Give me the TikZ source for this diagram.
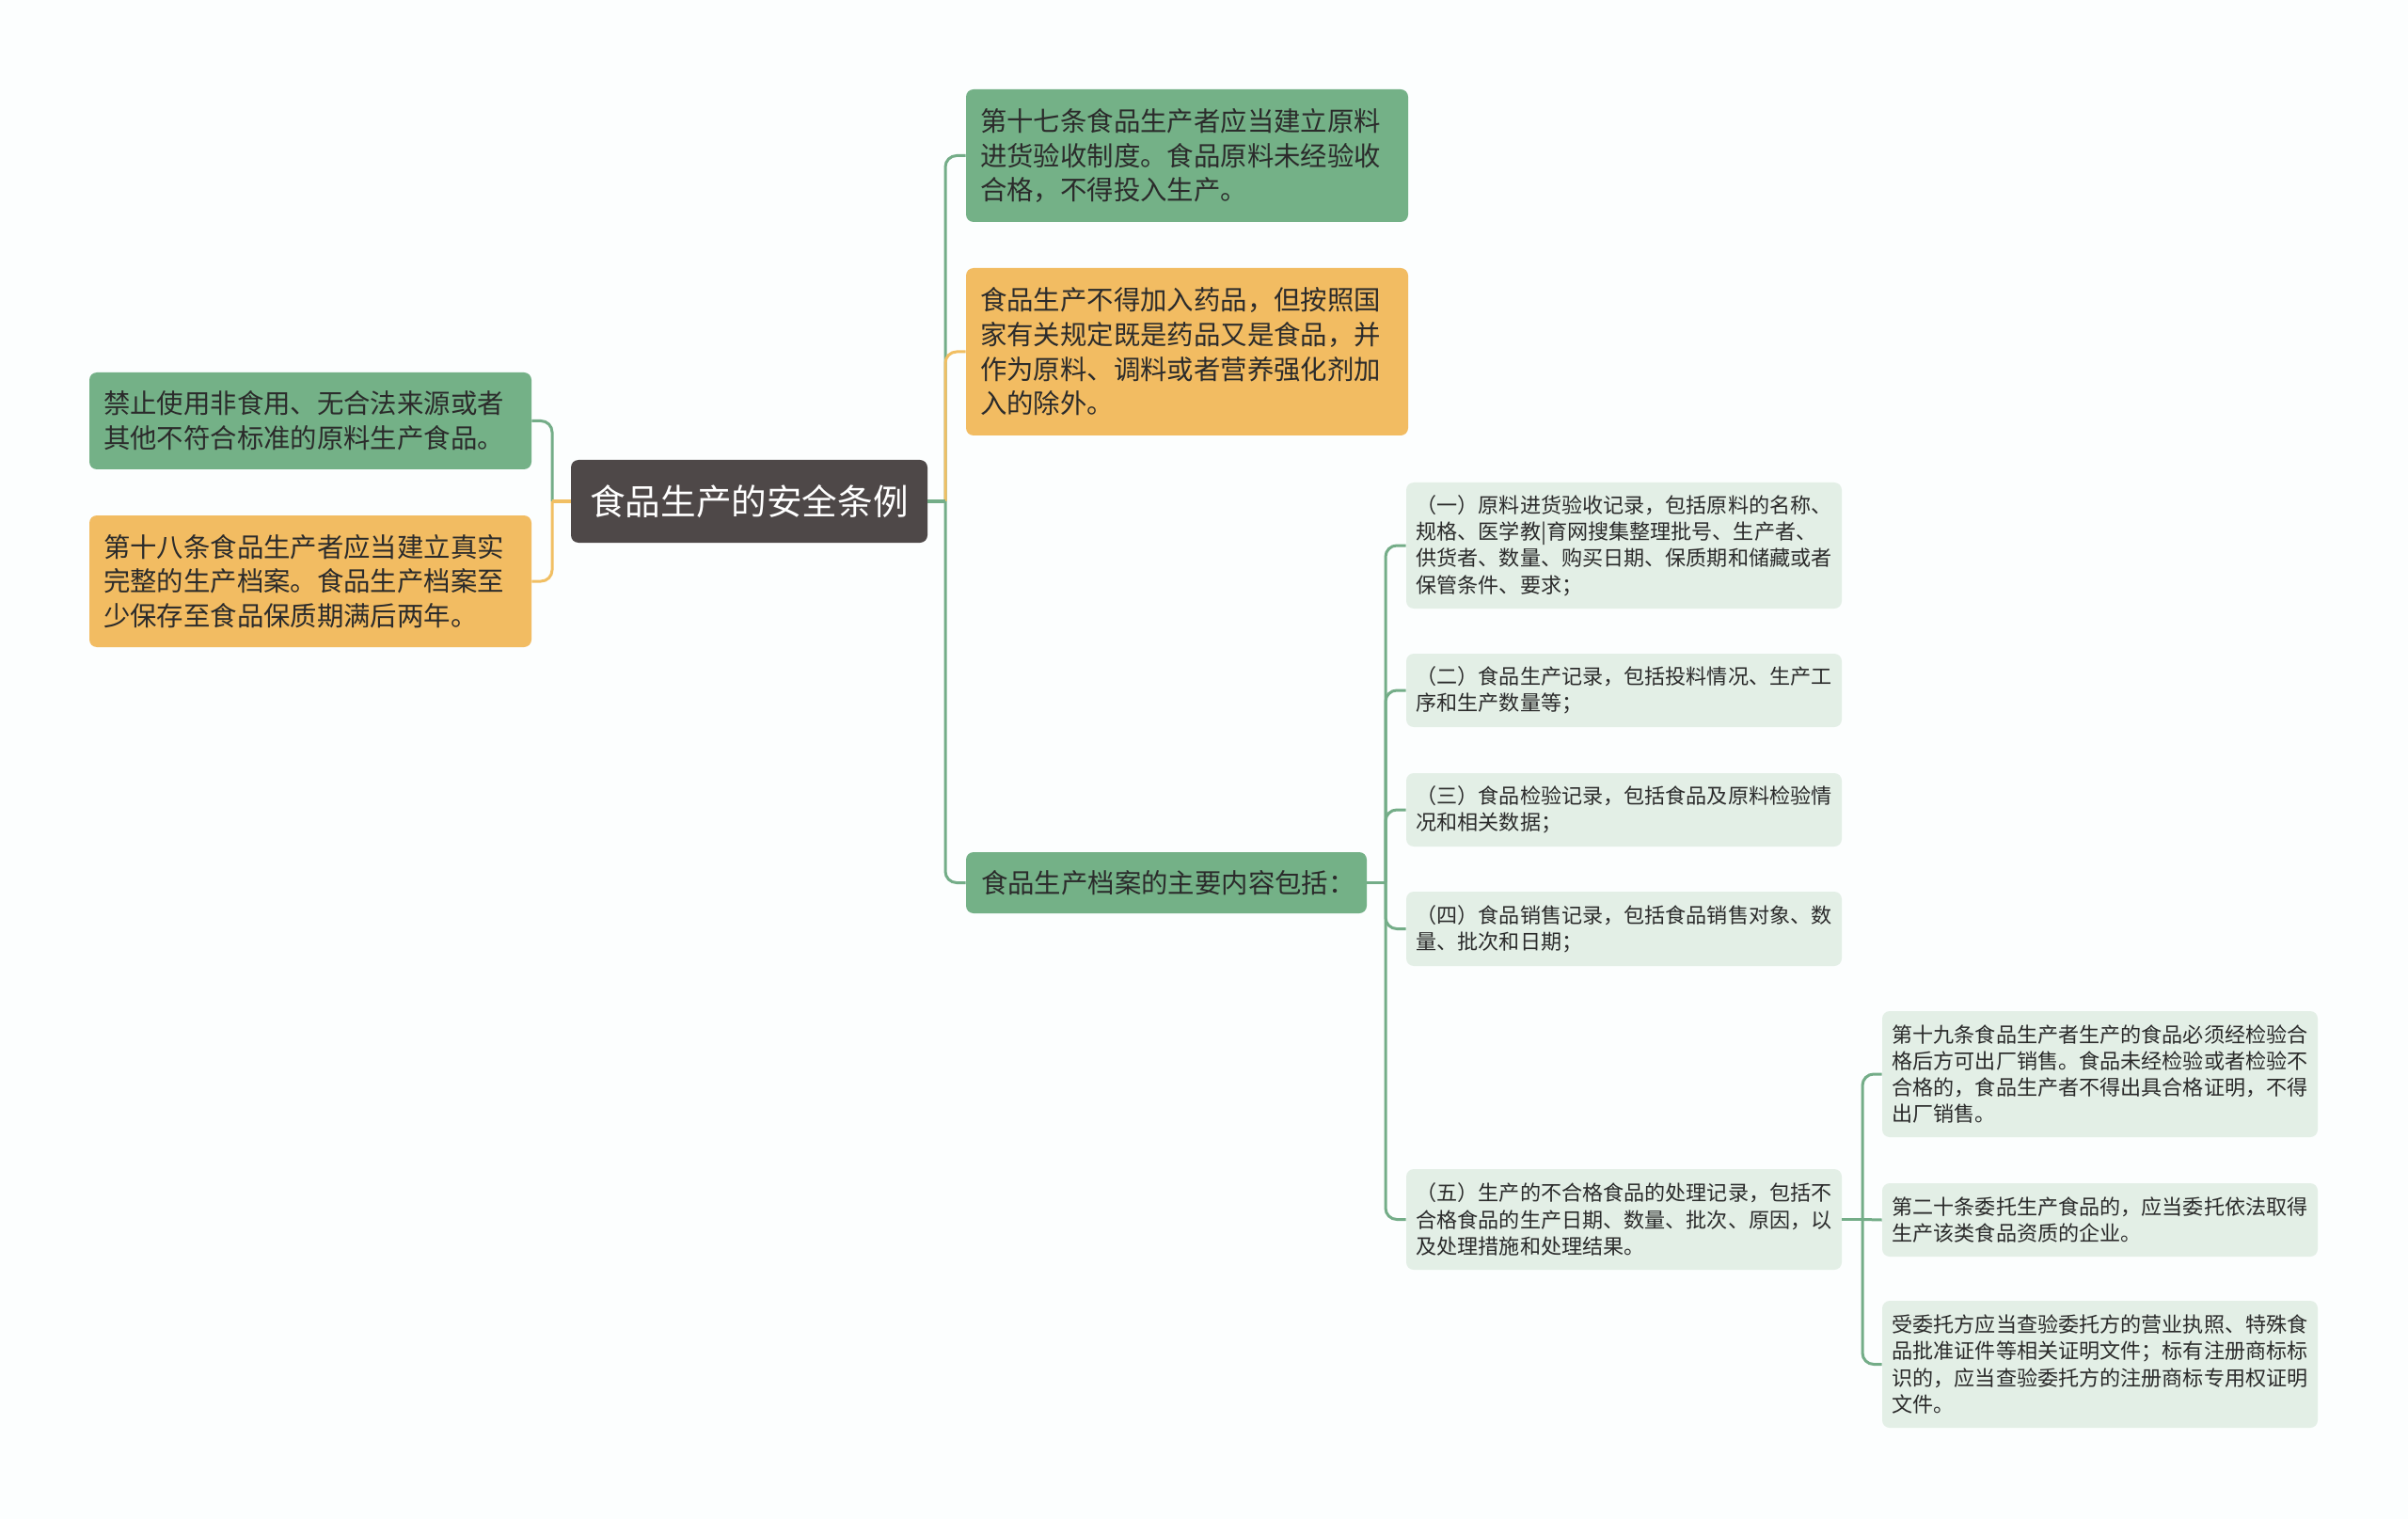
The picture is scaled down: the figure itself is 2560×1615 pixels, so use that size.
\documentclass[tikz,border=0pt]{standalone}
\usepackage{fontspec}
\setmainfont{Noto Sans CJK SC}
\usepackage{tikz}

\definecolor{bgwhite}{HTML}{FCFEFE}
\definecolor{leafgreen}{HTML}{74B187}
\definecolor{leaforange}{HTML}{F2BC62}
\definecolor{rootgray}{HTML}{4E4848}
\definecolor{palegreen}{HTML}{E3EFE6}
\definecolor{linegreen}{HTML}{74AD88}
\definecolor{lineorange}{HTML}{F1BF63}
\definecolor{inkgray}{HTML}{2B2B2B}

\begin{document}
\begin{tikzpicture}[x=0.5pt,y=-0.5pt]
\tikzstyle{every node}=[rounded corners=4pt, inner ysep=0pt, text=inkgray]
\tikzstyle{rootbox}=[fill=rootgray, text=white, minimum width=189.5pt, minimum height=44pt,
    font=\fontsize{18.8pt}{22pt}\selectfont]
\tikzstyle{bigbox}=[text width=220pt, inner xsep=7.5pt, align=left,
    font=\fontsize{14.2pt}{18.35pt}\selectfont]
\tikzstyle{greenbox}=[bigbox, fill=leafgreen]
\tikzstyle{orangebox}=[bigbox, fill=leaforange]
\tikzstyle{smallbox}=[fill=palegreen, text width=221pt, inner xsep=5.25pt, align=left,
    font=\fontsize{11.05pt}{14.15pt}\selectfont]
\tikzstyle{gline}=[draw=linegreen, line width=1.5pt]
\tikzstyle{oline}=[draw=lineorange, line width=1.5pt]

\fill[bgwhite] (0,0) rectangle (2560,1615);
\useasboundingbox (0,0) rectangle (2560,1615);

% centre and first level
\node[rootbox] (root) at (796.5,533) {食品生产的安全条例};
\node[greenbox, minimum height=70.5pt] (art17) at (1262,165.5)
    {第十七条食品生产者应当建立原料\\进货验收制度。食品原料未经验收\\合格，不得投入生产。};
\node[orangebox, minimum height=89pt] (drug) at (1262,374)
    {食品生产不得加入药品，但按照国\\家有关规定既是药品又是食品，并\\作为原料、调料或者营养强化剂加\\入的除外。};
\node[greenbox, text width=197pt, inner xsep=8pt, minimum height=32.5pt] (file) at (1240,938.5)
    {食品生产档案的主要内容包括：};
\node[greenbox, minimum height=51.5pt] (ban) at (330,447.5)
    {禁止使用非食用、无合法来源或者\\其他不符合标准的原料生产食品。};
\node[orangebox, minimum height=70pt] (art18) at (330,618)
    {第十八条食品生产者应当建立真实\\完整的生产档案。食品生产档案至\\少保存至食品保质期满后两年。};

% records
\node[smallbox, minimum height=67pt] (rec1) at (1726.5,580)
    {（一）原料进货验收记录，包括原料的名称、\\规格、医学教|育网搜集整理批号、生产者、\\供货者、数量、购买日期、保质期和储藏或者\\保管条件、要求；};
\node[smallbox, minimum height=39pt] (rec2) at (1726.5,734)
    {（二）食品生产记录，包括投料情况、生产工\\序和生产数量等；};
\node[smallbox, minimum height=39pt] (rec3) at (1726.5,861)
    {（三）食品检验记录，包括食品及原料检验情\\况和相关数据；};
\node[smallbox, minimum height=39.5pt] (rec4) at (1726.5,987.5)
    {（四）食品销售记录，包括食品销售对象、数\\量、批次和日期；};
\node[smallbox, minimum height=53.5pt] (rec5) at (1726.5,1296.5)
    {（五）生产的不合格食品的处理记录，包括不\\合格食品的生产日期、数量、批次、原因，以\\及处理措施和处理结果。};

% articles under (五)
\node[smallbox, minimum height=67pt] (art19) at (2232.5,1142)
    {第十九条食品生产者生产的食品必须经检验合\\格后方可出厂销售。食品未经检验或者检验不\\合格的，食品生产者不得出具合格证明，不得\\出厂销售。};
\node[smallbox, minimum height=39pt] (art20) at (2232.5,1297)
    {第二十条委托生产食品的，应当委托依法取得\\生产该类食品资质的企业。};
\node[smallbox, minimum height=67.5pt] (trust) at (2232.5,1450.5)
    {受委托方应当查验委托方的营业执照、特殊食\\品批准证件等相关证明文件；标有注册商标标\\识的，应当查验委托方的注册商标专用权证明\\文件。};

% junctions
\coordinate (jr) at (1005,533);
\coordinate (jl) at (587,533);
\coordinate (jf) at (1473,938.5);
\coordinate (j5) at (1980,1296.5);

% connectors
\draw[gline] (root.west) -- (jl);
\draw[gline, rounded corners=6pt] (jl) |- (ban.east);
\draw[oline] (root.west) -- (jl);
\draw[oline, rounded corners=6pt] (jl) |- (art18.east);

\draw[gline] (root.east) -- (jr);
\draw[gline, rounded corners=6pt] (jr) |- (art17.west);
\draw[oline] (root.east) -- (jr);
\draw[oline, rounded corners=6pt] (jr) |- (drug.west);
\draw[gline] (root.east) -- (jr);
\draw[gline, rounded corners=6pt] (jr) |- (file.west);

\draw[gline] (file.east) -- (jf);
\draw[gline, rounded corners=6pt] (jf) |- (rec1.west);
\draw[gline, rounded corners=6pt] (jf) |- (rec2.west);
\draw[gline, rounded corners=6pt] (jf) |- (rec3.west);
\draw[gline, rounded corners=6pt] (jf) |- (rec4.west);
\draw[gline, rounded corners=6pt] (jf) |- (rec5.west);

\draw[gline] (rec5.east) -- (j5);
\draw[gline, rounded corners=6pt] (j5) |- (art19.west);
\draw[gline] (j5) -- (art20.west);
\draw[gline, rounded corners=6pt] (j5) |- (trust.west);
\end{tikzpicture}
\end{document}
